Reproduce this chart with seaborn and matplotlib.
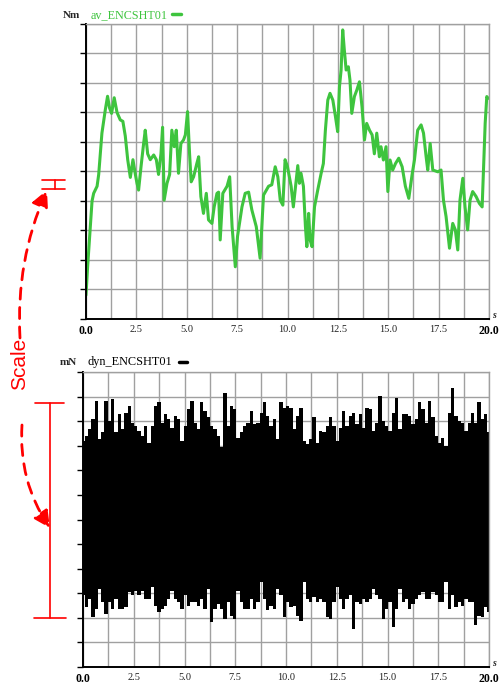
import numpy as np
import seaborn as sns
import matplotlib.pyplot as plt

# top trace: av_ENCSHT01 (grid units, 0..10)
green_t = [0.0, 0.08, 0.18, 0.3, 0.38, 0.55, 0.63, 0.79, 0.96, 1.07, 1.17, 1.27, 1.4, 1.54,
           1.7, 1.83, 1.95, 2.07, 2.2, 2.33, 2.45, 2.53, 2.61, 2.73, 2.86, 2.94, 3.06, 3.19,
           3.36, 3.49, 3.6, 3.72, 3.8, 3.88, 4.02, 4.15, 4.26, 4.38, 4.48, 4.59, 4.71, 4.84,
           4.93, 5.04, 5.14, 5.22, 5.34, 5.5, 5.59, 5.7, 5.83, 5.97, 6.08, 6.25, 6.36, 6.5,
           6.58, 6.66, 6.79, 7.0, 7.13, 7.25, 7.41, 7.52, 7.74, 7.9, 8.07, 8.23, 8.45, 8.64,
           8.81, 9.06, 9.22, 9.39, 9.52, 9.64, 9.77, 9.88, 10.0, 10.18, 10.29, 10.43, 10.51,
           10.59, 10.67, 10.79, 10.89, 10.96, 11.05, 11.12, 11.22, 11.34, 11.5, 11.67, 11.78,
           11.88, 12.0, 12.11, 12.25, 12.38, 12.49, 12.58, 12.66, 12.74, 12.82, 12.91, 13.02,
           13.1, 13.19, 13.32, 13.44, 13.57, 13.7, 13.82, 13.93, 14.07, 14.2, 14.31, 14.43,
           14.56, 14.64, 14.76, 14.89, 14.98, 15.09, 15.22, 15.36, 15.52, 15.69, 15.85, 16.02,
           16.18, 16.3, 16.46, 16.63, 16.75, 16.88, 16.96, 17.08, 17.21, 17.46, 17.62, 17.74,
           17.87, 18.04, 18.2, 18.33, 18.45, 18.56, 18.7, 18.81, 18.94, 19.06, 19.19, 19.36,
           19.52, 19.66, 19.72, 19.81, 19.89, 19.95]
green_v = [0.81, 1.77, 2.8, 4.0, 4.26, 4.5, 4.9, 6.3, 7.1, 7.55, 7.15, 6.97, 7.5, 7.0,
           6.75, 6.7, 6.2, 5.4, 4.8, 5.4, 4.9, 4.6, 4.37, 5.16, 5.95, 6.4, 5.6, 5.4,
           5.56, 5.4, 4.9, 5.6, 6.5, 4.03, 4.6, 4.9, 6.4, 5.84, 6.4, 4.94, 5.95, 6.07,
           6.24, 7.03, 5.6, 4.65, 4.82, 5.27, 5.5, 4.15, 3.58, 4.26, 3.36, 3.24, 3.8, 4.26,
           4.3, 2.68, 4.26, 4.5, 4.82, 3.13, 1.77, 2.8, 3.8, 4.26, 4.3, 3.7, 3.13, 2.06,
           4.2, 4.5, 4.55, 5.16, 4.82, 4.03, 3.86, 5.4, 5.16, 4.5, 3.8, 4.7, 5.2,
           4.6, 4.94, 4.5, 3.13, 2.45, 3.58, 2.68, 2.45, 3.8, 4.37, 4.94, 5.27,
           6.4, 7.42, 7.65, 7.42, 6.86, 6.35, 7.88, 8.44, 9.8, 9.12, 8.44, 8.55,
           8.1, 6.97, 7.54, 7.76, 8.04, 7.18, 6.07, 6.63, 6.4, 6.24, 5.6, 6.3,
           5.5, 5.84, 5.39, 5.84, 4.32, 5.39, 5.05, 5.27, 5.45, 5.16, 4.5, 4.09,
           4.88, 5.39, 6.4, 6.58, 6.3, 5.5, 5.05, 5.95, 5.05, 4.99, 5.05, 4.03,
           3.47, 2.4, 3.24, 3.02, 2.34, 4.03, 4.77, 3.8, 3.02, 4.03, 4.32, 4.15,
           3.92, 3.8, 4.94, 6.63, 7.54, 7.48]

# bottom trace: dyn_ENCSHT01 envelope (grid units, 0..12)
dyn_hi = [9.20, 9.40, 9.67, 10.08, 10.82, 9.27, 9.54, 10.82, 10.01, 10.89, 9.54, 10.28, 9.67,
          10.35, 10.62, 9.94, 9.81, 9.60, 9.40, 9.81, 9.13, 9.81, 10.62, 10.76, 9.94, 10.28,
          10.08, 9.74, 10.21, 10.08, 9.20, 9.81, 10.48, 10.82, 9.94, 9.67, 10.76, 10.42, 10.15,
          9.81, 9.67, 9.40, 8.93, 11.13, 9.81, 10.62, 10.48, 9.33, 9.54, 9.81, 9.94, 10.42,
          9.88, 9.94, 10.35, 10.76, 10.21, 9.81, 10.08, 9.27, 10.76, 10.55,
          10.62, 10.55, 9.67, 10.21, 10.55, 9.20, 9.06, 9.27, 10.15, 9.13, 9.60, 9.54, 9.81,
          10.15, 9.81, 9.20, 9.74, 10.42, 9.81, 10.21, 10.35, 9.88, 10.28, 9.74, 10.55, 10.48,
          9.60, 9.94, 11.03, 10.01, 9.81, 9.60, 10.35, 10.96, 9.67, 10.28, 10.28, 10.21, 9.88,
          10.08, 10.76, 10.48, 9.94, 10.82, 10.15, 9.40, 9.13, 9.33, 9.00, 10.35, 11.36, 10.21,
          10.01, 9.94, 9.60, 9.94, 10.35, 9.94, 10.76, 10.08, 10.28, 9.54]
dyn_lo = [2.91, 2.43, 2.77, 2.03, 2.37, 3.18, 2.64, 2.16, 2.64, 2.37, 2.77, 2.37, 2.37,
          2.43, 3.04, 2.91, 3.11, 2.91, 3.11, 2.77, 2.77, 3.24, 2.50, 2.23, 2.37, 2.50,
          2.77, 3.11, 2.77, 2.64, 2.37, 2.91, 2.50, 2.64, 2.64, 2.50, 2.77, 2.37, 3.18,
          1.82, 2.37, 2.57, 2.37, 1.96, 2.64, 2.09, 1.96, 3.11, 2.64, 2.37, 2.37, 2.77,
          2.37, 2.64, 3.45, 2.77, 2.30, 2.50, 2.37, 3.18, 2.91, 2.03,
          2.64, 2.43, 2.50, 2.09, 1.89, 3.45, 2.77, 2.64, 2.84, 2.64, 2.77, 2.64, 2.03,
          1.96, 2.64, 3.24, 2.77, 2.37, 2.77, 2.91, 1.55, 2.64, 2.57, 2.77, 2.64, 2.77,
          3.18, 2.91, 2.77, 1.96, 2.37, 2.64, 1.62, 2.37, 3.18, 2.64, 2.77, 2.37, 2.57,
          2.77, 2.91, 3.04, 2.77, 2.77, 3.04, 2.91, 2.64, 2.64, 3.45, 2.37, 2.91, 2.43,
          2.64, 2.50, 2.77, 2.64, 2.64, 1.69, 2.09, 2.03, 2.43, 2.23]

x_ticks = np.arange(0, 20.01, 1.25)
x_labels = ["0.0", "", "2.5", "", "5.0", "", "7.5", "", "10.0", "", "12.5", "",
            "15.0", "", "17.5", "", "20.0"]

GREEN = "#3ec43e"
RED = "#ff0000"

sns.set_style("white")
plt.rcParams['font.family'] = ['Liberation Serif', 'DejaVu Serif']

fig = plt.figure(figsize=(4.99, 6.86), dpi=100)
ax1 = fig.add_axes([86 / 499, 1 - 319 / 686, 403 / 499, 295 / 686])
ax2 = fig.add_axes([83 / 499, 1 - 667 / 686, 406 / 499, 295 / 686])


def style_axes(ax, ymax):
    ax.set_xlim(0, 20)
    ax.set_ylim(0, ymax)
    ax.set_xticks(x_ticks)
    ax.set_xticklabels(x_labels)
    ax.set_yticks(range(ymax + 1))
    ax.set_yticklabels([])
    ax.grid(True, color="#a0a0a0", lw=1)
    ax.set_axisbelow(True)
    ax.tick_params(axis="x", length=2, pad=2.5, colors="#222222", labelsize=7.5)
    ax.tick_params(axis="y", length=4, width=1, direction="out", color="black", left=True)
    for lab in ax.get_xticklabels():
        if lab.get_text() in ("0.0", "20.0"):
            lab.set_fontweight("bold")
            lab.set_fontsize(8.5)
            lab.set_color("black")
    for side in ("left", "bottom"):
        ax.spines[side].set_color("black")
        ax.spines[side].set_linewidth(1.4)
    for side in ("top", "right"):
        ax.spines[side].set_color("#a0a0a0")
        ax.spines[side].set_linewidth(1)
    ax.set_xlabel("")
    ax.set_ylabel("")


sns.lineplot(x=green_t, y=green_v, ax=ax1, color=GREEN, lw=2.2, sort=False, estimator=None)
style_axes(ax1, 10)

dyn_t = np.linspace(0, 20, len(dyn_hi))
ax2.fill_between(dyn_t, dyn_lo, dyn_hi, step="mid", color="black", lw=0)
style_axes(ax2, 12)

# headers
fig.text(63 / 499, 1 - 15 / 686, "Nm", fontsize=8, fontweight="bold", va="center")
fig.text(91 / 499, 1 - 15 / 686, "av_ENCSHT01", fontsize=8.7, color=GREEN, va="center")
fig.text(60 / 499, 1 - 362 / 686, "mN", fontsize=8, fontweight="bold", va="center")
fig.text(88 / 499, 1 - 362 / 686, "dyn_ENCSHT01", fontsize=8.8, color="black", va="center")
fig.text(492 / 499, 1 - 316 / 686, "s", fontsize=7, style="italic", fontweight="bold", va="center")
fig.text(492 / 499, 1 - 664 / 686, "s", fontsize=7, style="italic", fontweight="bold", va="center")

# overlay in pixel coordinates for the annotations
ov = fig.add_axes([0, 0, 1, 1], facecolor="none")
ov.set_xlim(0, 499)
ov.set_ylim(686, 0)
ov.axis("off")

ov.plot([172, 181], [14, 14], color=GREEN, lw=2.5)
ov.plot([179, 187], [362, 362], color="black", lw=2.5)

# upper bracket
ov.plot([42, 65], [180, 180], color=RED, lw=1.2)
ov.plot([42, 65], [189, 189], color=RED, lw=1.2)
ov.plot([55, 55], [180, 189], color=RED, lw=1.2)
# lower bracket
ov.plot([35, 64], [403, 403], color=RED, lw=1.2)
ov.plot([34, 66], [618, 618], color=RED, lw=1.2)
ov.plot([50.5, 50.5], [403, 618], color=RED, lw=1.2)

arrow = dict(arrowstyle="-|>,head_length=1.0,head_width=0.5", color=RED, lw=2,
             linestyle=(0, (4, 3)), shrinkA=0, shrinkB=0)
ov.annotate("", xy=(47, 190), xytext=(20, 338),
            arrowprops=dict(arrow, connectionstyle="arc3,rad=-0.12"))
ov.annotate("", xy=(50, 528), xytext=(22, 425),
            arrowprops=dict(arrow, connectionstyle="arc3,rad=0.17"))

ov.text(20, 364, "Scale", color=RED, fontsize=15, rotation=90, ha="center", va="center",
        family=["Liberation Sans", "DejaVu Sans"])

fig.savefig("out.png", dpi=100)
